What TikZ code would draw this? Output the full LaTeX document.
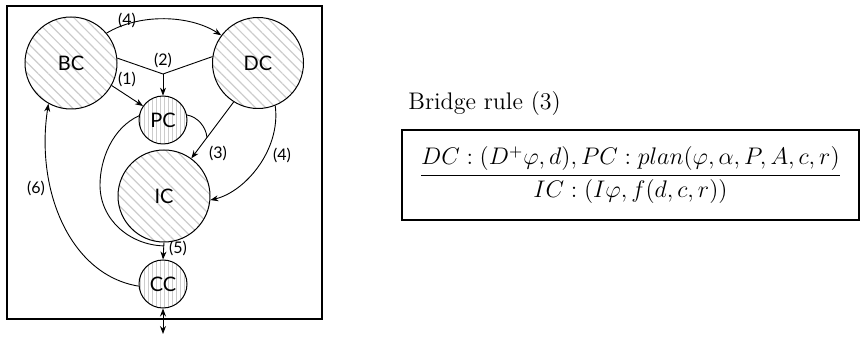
\documentclass[tikz,border=0pt]{standalone}
\usepackage{fontspec}
\newfontfamily\diagfont{Lato}
\usetikzlibrary{patterns,patterns.meta,arrows.meta,calc}
\begin{document}
\begin{tikzpicture}[x=0.5pt,y=-0.5pt,
  lbl/.style={font=\diagfont\fontsize{8}{9}\selectfont, inner sep=0pt},
  bigc/.style={circle, draw, line width=0.5pt,
    pattern={Lines[angle=-45,distance=3.6pt,line width=0.6pt]}, pattern color=gray!40,
    font=\diagfont\fontsize{10}{12}\selectfont, inner sep=0pt},
  smallc/.style={circle, draw, line width=0.5pt,
    pattern={Lines[angle=90,distance=2pt,line width=0.35pt]}, pattern color=gray!40,
    font=\diagfont\fontsize{10}{12}\selectfont, inner sep=0pt},
  arr/.style={-{Stealth[length=4pt,width=3pt]}, line width=0.45pt},
  conn/.style={line width=0.45pt},
]
\useasboundingbox (0,0) rectangle (860,341);
\draw[line width=0.8pt] (7,6) rectangle (322,319);
\node[bigc, minimum size=46pt] (BC) at (71,63) {BC};
\node[bigc, minimum size=45.5pt] (DC) at (258,63) {DC};
\node[bigc, minimum size=46pt] (IC) at (164,196) {IC};
\node[smallc, minimum size=24pt] (PC) at (163,120) {PC};
\node[smallc, minimum size=24pt] (CC) at (163,284) {CC};
% (4) top
\draw[arr] (BC.40) .. controls (140,13) and (190,15) .. (DC.143);
\node[lbl] (l4a) at (127,20) {(4)};
% (2)
\coordinate (J2) at (163,74);
\draw[conn] (BC.6) -- (J2) -- (DC.172);
\draw[arr] (J2) -- (PC.north);
\node[lbl] (l2) at (163,60) {(2)};
% (1)
\draw[arr] (BC.-29) -- (PC.145);
\node[lbl] (l1) at (127,79) {(1)};
% (3)
\draw[arr] (DC.238) -- (IC.54);
\coordinate (J3) at ($(DC.238)!0.63!(IC.54)$);
\draw[conn] (PC.12) .. controls (198,117) and (206,127) .. (J3);
\node[lbl] (l3) at (218,153) {(3)};
% (4) right
\draw[arr] (DC.-68) .. controls (281,150) and (245,192) .. (IC.-5);
\node[lbl] (l4b) at (282,155) {(4)};
% (5)
\draw[arr] (IC.south) -- (CC.north);
\coordinate (J5) at ($(IC.south)!0.2!(CC.north)$);
\draw[conn] (PC.170) .. controls (112,128) and (100,160) .. (100,185) .. controls (100,220) and (130,245) .. (J5);
\node[lbl] (l5) at (178,248) {(5)};
% (6)
\draw[arr] (CC.185) .. controls (70,275) and (35,190) .. (BC.241);
\node[lbl] (l6) at (36,188) {(6)};
% external
\coordinate (ext) at (163,334);
\draw[{Stealth[length=4pt,width=3pt]}-{Stealth[length=4pt,width=3pt]}, line width=0.45pt] (CC.south) -- (ext);
% right side
\node[anchor=west, font=\fontsize{12}{14}\selectfont, inner sep=0pt] (title) at (408,104) {Bridge rule (3)};
\node[draw, line width=0.6pt, minimum width=228.5pt, minimum height=45pt, inner sep=0pt,
  font=\fontsize{12}{14}\selectfont] (rule) at (630.5,175)
  {$\displaystyle\frac{DC : (D^{+}\varphi, d), PC : plan(\varphi, \alpha, P, A, c, r)}{IC : (I\varphi, f(d, c, r))}$};
\end{tikzpicture}
\end{document}
